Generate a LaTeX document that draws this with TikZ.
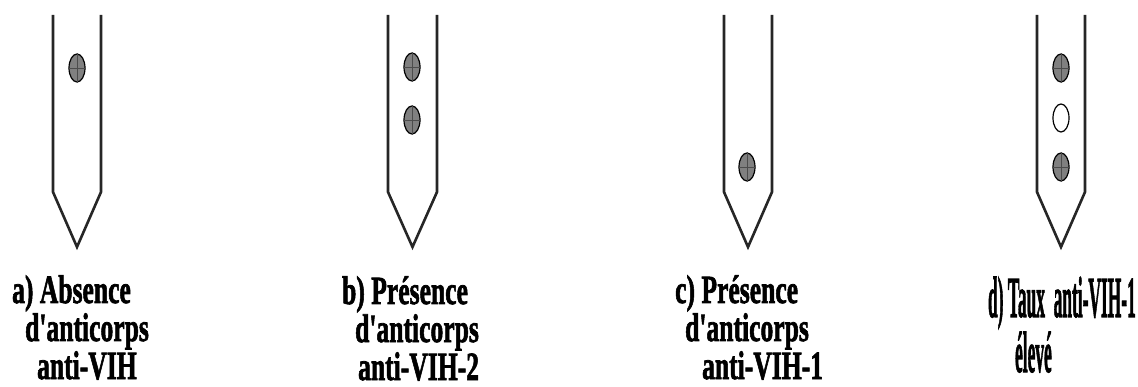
\documentclass[tikz,border=0pt]{standalone}
\usepackage{fontspec}
\setmainfont{Liberation Serif}[Ligatures=TeXOff,BoldFeatures={FakeBold=2}]
\usetikzlibrary{shapes.geometric}
\begin{document}
\begin{tikzpicture}[x=1pt,y=-1pt,
  strip/.style={draw=black!85,line width=2.6pt,line join=miter},
  dot/.style={draw=black,line width=1.2pt,fill=black!50,ellipse,minimum width=16pt,minimum height=28pt,inner sep=0pt},
  odot/.style={draw=black,line width=1.2pt,fill=white,ellipse,minimum width=16pt,minimum height=28pt,inner sep=0pt},
  lbl/.style={font=\bfseries\fontsize{40}{40}\selectfont,anchor=base west,inner sep=0pt,xscale=0.64},
  lbld/.style={font=\bfseries\fontsize{58}{58}\selectfont,anchor=base west,inner sep=0pt,xscale=0.30}]
\useasboundingbox (0,0) rectangle (1138,387);
% strips
\foreach \n/\L/\R in {a/53/101,b/388/437,c/724/772,d/1037/1085}{
  \coordinate (\n tl) at (\L,15);
  \coordinate (\n tr) at (\R,15);
  \coordinate (\n bl) at (\L,192);
  \coordinate (\n br) at (\R,192);
  \coordinate (\n tip) at ({(\L+\R)/2},247);
  \draw[strip] (\n tl) -- (\n bl) -- (\n tip) -- (\n br) -- (\n tr);
}
% dots
\newcommand{\hatchdot}[3]{%
  \node[dot] (#1) at (#2,#3) {};
  \draw[black!70,line width=0.5pt] (#1.north) -- (#1.south) (#1.west) -- (#1.east);
}
\hatchdot{da}{77}{68}
\hatchdot{db1}{412}{67}
\hatchdot{db2}{412}{120}
\hatchdot{dc}{747}{167}
\hatchdot{dd1}{1061}{68}
\node[odot] (dd2) at (1061,118) {};
\hatchdot{dd3}{1061}{167}
% labels
\node[lbl] (ta1) at (12,303) {a) Absence};
\node[lbl] (ta2) at (25,341) {d'anticorps};
\node[lbl] (ta3) at (37,379) {anti-VIH};
\node[lbl] (tb1) at (342,304) {b) Présence};
\node[lbl] (tb2) at (355,342) {d'anticorps};
\node[lbl] (tb3) at (358,380) {anti-VIH-2};
\node[lbl] (tc1) at (675,303) {c) Présence};
\node[lbl] (tc2) at (685,341) {d'anticorps};
\node[lbl] (tc3) at (702,379) {anti-VIH-1};
\node[lbld] (td1) at (988,317) {d) Taux\ \ anti-VIH-1};
\node[lbld] (td2) at (1015,372) {élevé};
\end{tikzpicture}
\end{document}
